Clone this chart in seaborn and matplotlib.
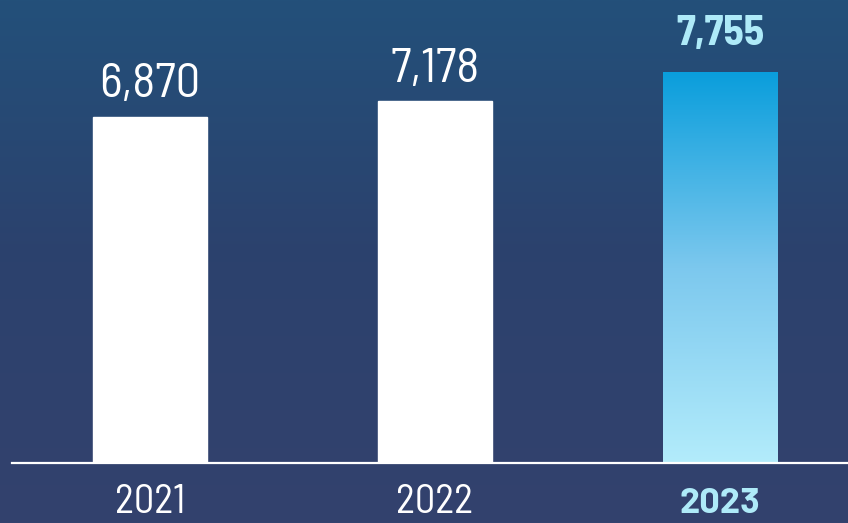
import numpy as np
import pandas as pd
import matplotlib
matplotlib.use("Agg")
import matplotlib.pyplot as plt
import seaborn as sns
from matplotlib.colors import LinearSegmentedColormap

# data
years = ["2021", "2022", "2023"]
values = [6870, 7178, 7755]

df = pd.DataFrame({"year": years, "value": values})

HIGHLIGHT = "#aeeaf8"

sns.set_style("white")
plt.rcParams["font.family"] = ["Barlow Semi Condensed", "DejaVu Sans"]

fig = plt.figure(figsize=(8.48, 5.23), dpi=100)

# background gradient
bg = fig.add_axes([0, 0, 1, 1], zorder=0)
bg_cmap = LinearSegmentedColormap.from_list("bg", ["#33426e", "#2c416d", "#23507a"])
bg.imshow(np.linspace(0, 1, 256).reshape(-1, 1), aspect="auto", cmap=bg_cmap,
          origin="lower", extent=[0, 1, 0, 1])
bg.axis("off")

ax = fig.add_axes([12 / 848, 60 / 523, 836 / 848, 463 / 523], zorder=1)
ax.patch.set_alpha(0)

sns.barplot(data=df, x="year", y="value", color="white", width=0.4,
            saturation=1, ax=ax)

# gradient fill for the last bar
last = ax.patches[-1]
last.set_facecolor("none")
last.set_edgecolor("none")
x0, y0 = last.get_x(), last.get_y()
w, h = last.get_width(), last.get_height()
bar_cmap = LinearSegmentedColormap.from_list("bar", ["#b3ecfb", "#7cc8ee", "#0a9edc"])
img = ax.imshow(np.linspace(0, 1, 256).reshape(-1, 1), aspect="auto", cmap=bar_cmap,
                origin="lower", extent=[x0, x0 + w, y0, y0 + h], zorder=2)
img.set_clip_path(last)
ax.set_xlim(-0.484, 2.449)
ax.set_ylim(0, 9190)

# value labels
for i, v in enumerate(values):
    hl = i == len(values) - 1
    ax.annotate(f"{v:,}", (i, v), xytext=(0, 20 if hl else 14),
                textcoords="offset points", ha="center", va="baseline",
                fontsize=30 if hl else 35,
                color=HIGHLIGHT if hl else "white",
                fontweight="bold" if hl else "normal")

ax.set_xlabel("")
ax.set_ylabel("")
ax.set_yticks([])
ax.tick_params(axis="x", length=0, pad=36)
for lbl in ax.get_xticklabels():
    lbl.set_va("baseline")
    if lbl.get_text() == "2023":
        lbl.set_fontsize(26)
        lbl.set_color(HIGHLIGHT)
        lbl.set_fontweight("bold")
        lbl.set_fontfamily(["Barlow", "DejaVu Sans"])
    else:
        lbl.set_fontsize(29)
        lbl.set_color("white")
        lbl.set_fontweight("normal")

sns.despine(ax=ax, left=True, top=True, right=True)
ax.spines["bottom"].set_color("white")
ax.spines["bottom"].set_linewidth(1.6)

fig.savefig("out.png", dpi=100)
